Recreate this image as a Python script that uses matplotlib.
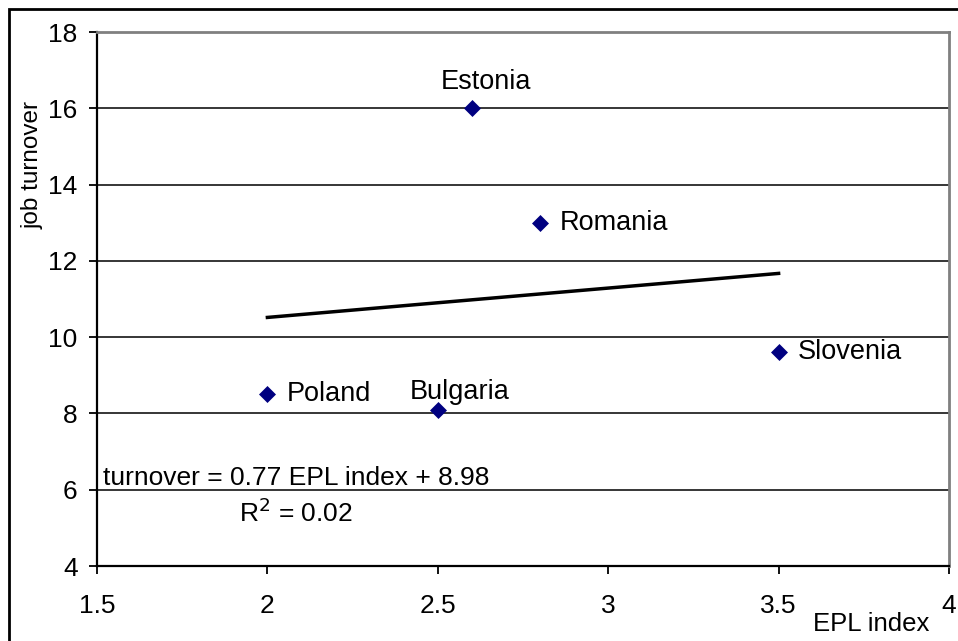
import numpy as np
import matplotlib
matplotlib.use("Agg")
import matplotlib.pyplot as plt
from matplotlib.patches import Rectangle

plt.rcParams['font.family'] = ['Liberation Sans', 'DejaVu Sans']

countries = ["Poland", "Bulgaria", "Estonia", "Romania", "Slovenia"]
epl = [2.0, 2.5, 2.6, 2.8, 3.5]
turnover = [8.5, 8.1, 16.0, 13.0, 9.6]

# label placement (offset in points, alignment)
label_pos = {
    "Poland": ((14, 0), "left", "center"),
    "Bulgaria": ((16, 8), "center", "baseline"),
    "Estonia": ((10, 14), "center", "baseline"),
    "Romania": ((14, 0), "left", "center"),
    "Slovenia": ((14, 0), "left", "center"),
}

slope, intercept = np.polyfit(epl, turnover, 1)
r2 = np.corrcoef(epl, turnover)[0, 1] ** 2

fig = plt.figure(figsize=(9.58, 6.41), dpi=100)
ax = fig.add_axes([97 / 958, 1 - 566 / 641, (949 - 97) / 958, (566 - 32) / 641])

ax.scatter(epl, turnover, marker="D", s=75, color="#000080", zorder=4, linewidths=0)

xfit = np.array([min(epl), max(epl)])
ax.plot(xfit, slope * xfit + intercept, color="black", lw=2.5, zorder=3)

for name, x, y in zip(countries, epl, turnover):
    off, ha, va = label_pos[name]
    ax.annotate(name, (x, y), xytext=off, textcoords="offset points",
                ha=ha, va=va, fontsize=19.5)

ax.text(2.084, 6.12, "turnover = %.2f EPL index + %.2f" % (slope, intercept),
        ha="center", va="baseline", fontsize=19)
ax.text(2.084, 5.15, "R$^2$ = %.2f" % r2, ha="center", va="baseline", fontsize=19)

ax.set_xlim(1.5, 4)
ax.set_ylim(4, 18)
ax.set_xticks([1.5, 2, 2.5, 3, 3.5, 4])
ax.set_xticklabels(["1.5", "2", "2.5", "3", "3.5", "4"])
ax.set_yticks([4, 6, 8, 10, 12, 14, 16, 18])
ax.grid(axis="y", color="black", lw=1.1)
ax.set_axisbelow(True)

ax.tick_params(axis="x", direction="out", length=5.5, width=1.3, pad=15, labelsize=19)
ax.tick_params(axis="y", direction="out", length=6, width=1.3, pad=8, labelsize=19)

for side in ["top", "right"]:
    ax.spines[side].set_color("#808080")
    ax.spines[side].set_linewidth(2)
for side in ["left", "bottom"]:
    ax.spines[side].set_color("black")
    ax.spines[side].set_linewidth(1.6)

fig.text(33 / 958, 1 - 165 / 641, "job turnover", rotation=90, ha="center", va="center",
         fontsize=17.5)
fig.text(871 / 958, 1 - 631 / 641, "EPL index", ha="center", va="baseline", fontsize=18.5)

# outer chart frame
fig.patches.append(Rectangle((9 / 958, -0.1), 1.2, 1 - 9 / 641 + 0.1, transform=fig.transFigure,
                             fill=False, edgecolor="black", lw=2, clip_on=False))

fig.savefig("out.png", dpi=100)
